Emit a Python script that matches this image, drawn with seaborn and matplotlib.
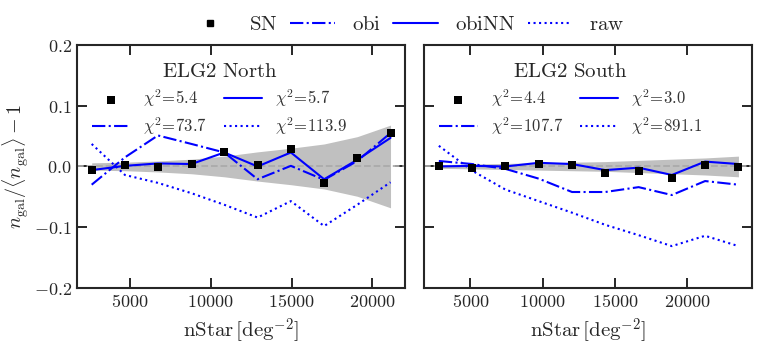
import numpy as np
import pandas as pd
import seaborn as sns
import matplotlib.pyplot as plt
from matplotlib.ticker import FuncFormatter, MultipleLocator
from matplotlib.lines import Line2D

sns.set_theme(style="ticks")
plt.rcParams['mathtext.fontset'] = 'cm'
plt.rcParams['font.family'] = ['DejaVu Serif']

# ELG2 North
north_x = [2630, 4690, 6730, 8810, 10840, 12900, 14960, 17020, 19070, 21130]
north_sn = [-0.006, 0.002, -0.001, 0.004, 0.024, 0.002, 0.028, -0.028, 0.014, 0.055]
north_obi = [-0.030, 0.015, 0.051, 0.037, 0.023, -0.021, 0.001, -0.022, 0.009, 0.055]
north_obinn = [-0.006, 0.001, 0.005, 0.004, 0.023, 0.000, 0.023, -0.021, 0.011, 0.047]
north_raw = [0.037, -0.014, -0.027, -0.044, -0.063, -0.084, -0.057, -0.098, -0.063, -0.026]
north_err = [0.006, 0.007, 0.009, 0.012, 0.017, 0.024, 0.030, 0.037, 0.049, 0.068]
north_chi2 = ["5.4", "73.7", "5.7", "113.9"]

# ELG2 South
south_x = [2810, 5120, 7420, 9720, 12030, 14330, 16640, 18940, 21240, 23550]
south_sn = [0.000, -0.002, 0.001, 0.004, 0.003, -0.010, -0.007, -0.019, 0.002, -0.001]
south_obi = [0.009, 0.004, -0.004, -0.020, -0.042, -0.042, -0.034, -0.047, -0.024, -0.030]
south_obinn = [0.000, 0.001, 0.000, 0.006, 0.004, -0.006, -0.002, -0.014, 0.008, 0.004]
south_raw = [0.034, -0.007, -0.038, -0.057, -0.076, -0.096, -0.113, -0.131, -0.114, -0.131]
south_err = [0.003, 0.004, 0.005, 0.006, 0.007, 0.008, 0.010, 0.012, 0.014, 0.017]
south_chi2 = ["4.4", "107.7", "3.0", "891.1"]

names = ["SN", "obi", "obiNN", "raw"]

fig, axes = plt.subplots(1, 2, figsize=(7.59, 3.45), dpi=100)
plt.subplots_adjust(left=0.101, right=0.991, bottom=0.165, top=0.870, wspace=0.06)

panels = [
    ("ELG2 North", north_x, north_sn, north_obi, north_obinn, north_raw, north_err, north_chi2, (1700, 22000)),
    ("ELG2 South", south_x, south_sn, south_obi, south_obinn, south_raw, south_err, south_chi2, (1800, 24500)),
]

mfmt = FuncFormatter(lambda v, p: r'$%g$' % v)
yfmt = FuncFormatter(lambda v, p: r'$%.1f$' % v)

for i, (ax, (title, x, sn, obi, obinn, raw, err, chi2, xlim)) in enumerate(zip(axes, panels)):
    df = pd.DataFrame({"x": x, "SN": sn, "obi": obi, "obiNN": obinn, "raw": raw, "err": err})
    ax.fill_between(df["x"], -df["err"], df["err"], color="#c0c0c0", lw=0, zorder=0)
    ax.axhline(0, color="#aaaaaa", ls="--", lw=1.3, zorder=1)
    sns.scatterplot(data=df, x="x", y="SN", marker="s", color="black", s=30,
                    edgecolor="black", linewidth=0, ax=ax, zorder=5,
                    label=r'$\chi^2\!=\!%s$' % chi2[0])
    sns.lineplot(data=df, x="x", y="obi", color="blue", ax=ax, lw=1.5,
                 linestyle="-.", label=r'$\chi^2\!=\!%s$' % chi2[1])
    sns.lineplot(data=df, x="x", y="obiNN", color="blue", ax=ax, lw=1.5,
                 linestyle="-", label=r'$\chi^2\!=\!%s$' % chi2[2])
    sns.lineplot(data=df, x="x", y="raw", color="blue", ax=ax, lw=1.5,
                 linestyle=":", label=r'$\chi^2\!=\!%s$' % chi2[3])
    leg = ax.legend(ncol=2, frameon=False, loc="upper left", bbox_to_anchor=(0.0, 0.99),
                    title=r'$\mathrm{%s}$' % title.replace(" ", r"\ "), fontsize=12,
                    title_fontsize=15, handlelength=2.3, columnspacing=1.0,
                    handletextpad=0.8, labelspacing=0.35)
    for t in leg.get_texts():
        t.set_color("#333333")
    ax.set_xlim(*xlim)
    ax.set_ylim(-0.2, 0.2)
    ax.xaxis.set_major_locator(MultipleLocator(5000))
    ax.yaxis.set_major_locator(MultipleLocator(0.1))
    ax.xaxis.set_major_formatter(mfmt)
    ax.yaxis.set_major_formatter(yfmt)
    ax.tick_params(direction="in", top=True, right=True, length=7, width=1.4, labelsize=13)
    for sp in ax.spines.values():
        sp.set_linewidth(1.5)
    ax.set_xlabel(r'$\mathrm{nStar}\,[\mathrm{deg}^{-2}]$', fontsize=15)
    if i == 0:
        ax.set_ylabel(r'$n_{\rm gal}/\langle n_{\rm gal}\rangle - 1$', fontsize=14.5, labelpad=2)
    else:
        ax.set_ylabel("")
        ax.tick_params(labelleft=False)

handles = [
    Line2D([], [], marker="s", color="black", ls="none", markersize=5),
    Line2D([], [], color="blue", ls="-.", lw=1.5),
    Line2D([], [], color="blue", ls="-", lw=1.5),
    Line2D([], [], color="blue", ls=":", lw=1.5),
]
fig.legend(handles, [r'$\mathrm{%s}$' % n for n in names], ncol=4, frameon=False,
           loc="center", bbox_to_anchor=(0.535, 0.928), fontsize=15, handlelength=2.15,
           columnspacing=0.6, handletextpad=0.8)

fig.savefig("out.png", dpi=100)
